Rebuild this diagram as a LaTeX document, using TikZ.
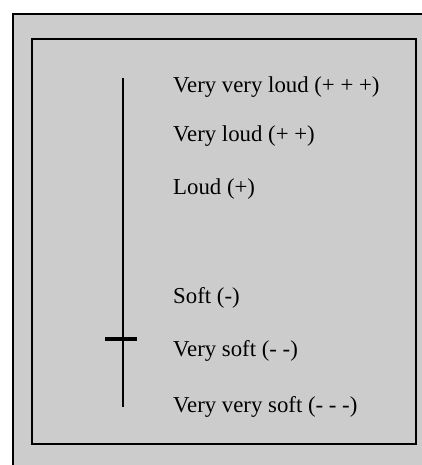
\documentclass[tikz,border=0pt]{standalone}
\usepackage{fontspec}
\setmainfont{Liberation Serif}
\definecolor{panel}{HTML}{CCCCCC}
\tikzset{
  lbl/.style={anchor=west, inner sep=0pt, font=\fontsize{22.8}{26}\selectfont},
  frame/.style={draw=black, line width=2pt, fill=panel},
}
\begin{document}
\begin{tikzpicture}[x=1pt,y=-1pt]
\useasboundingbox (0,0) rectangle (422,465);
\fill[white] (0,0) rectangle (422,465);
\draw[frame] (13,14) rectangle (430,475);
\draw[frame] (32,39) rectangle (416,444);
\coordinate (top) at (123,78);
\coordinate (bot) at (123,407);
\draw[line width=2pt] (top) -- (bot);
\coordinate (tl) at (105,339);
\coordinate (tr) at (137,339);
\draw[line width=4.5pt] (tl) -- (tr);
\node[lbl] (l1) at (173,87) {Very very loud (+ + +)};
\node[lbl] (l2) at (173,136) {Very loud (+ +)};
\node[lbl] (l3) at (173,189) {Loud (+)};
\node[lbl] (l4) at (173,298) {Soft (-)};
\node[lbl] (l5) at (173,351) {Very soft (- -)};
\node[lbl] (l6) at (173,407) {Very very soft (- - -)};
\end{tikzpicture}
\end{document}
